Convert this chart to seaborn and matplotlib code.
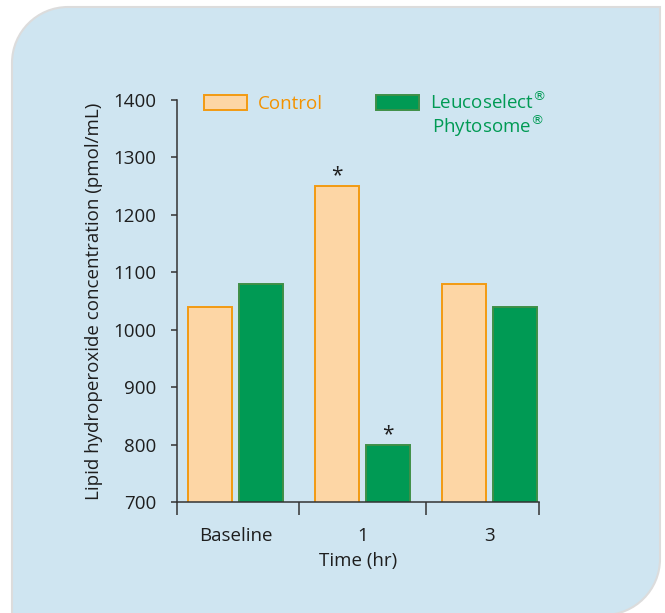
import pandas as pd
import matplotlib.pyplot as plt
import seaborn as sns
from matplotlib.patches import Patch, PathPatch
from matplotlib.path import Path

# Data
times = ["Baseline", "1", "3"]
control = [1040, 1250, 1080]
leucoselect = [1080, 800, 1040]
groups = ["Control", "Leucoselect"]
significant = {("Control", "1"), ("Leucoselect", "1")}

df = pd.DataFrame({
    "time": times * 2,
    "value": control + leucoselect,
    "group": ["Control"] * 3 + ["Leucoselect"] * 3,
})

sns.set_style("white")
plt.rcParams["font.family"] = ["Open Sans", "DejaVu Sans"]

bg = "#cfe5f1"
fill_c = "#fdd6a5"
edge_c = "#f29a12"
green = "#009a54"
green_edge = "#3f8f47"
orange_txt = "#f39200"
dark = "#1e1e1e"
fs = 13.5

fig = plt.figure(figsize=(6.65, 6.13), dpi=100)
fig.patch.set_facecolor("white")

# rounded light blue panel (top-left and bottom-right corners rounded), pixel coords
x0, x1, ytop, ybot, r = 12, 660, 606, -2, 56
k = 0.5523 * r
verts = [(x0, -10), (x0, ytop - r),
         (x0, ytop - r + k), (x0 + r - k, ytop), (x0 + r, ytop),
         (x1, ytop), (x1, ybot + r),
         (x1, ybot + r - k), (x1 - r + k, ybot), (x1 - r, ybot),
         (x0, -10), (x0, -10)]
codes = [Path.MOVETO, Path.LINETO,
         Path.CURVE4, Path.CURVE4, Path.CURVE4,
         Path.LINETO, Path.LINETO,
         Path.CURVE4, Path.CURVE4, Path.CURVE4,
         Path.LINETO, Path.CLOSEPOLY]
panel = PathPatch(Path(verts, codes), facecolor=bg, edgecolor="#dcdcdc",
                  linewidth=1.5, transform=None, zorder=-5)
fig.patches.append(panel)

ax = fig.add_axes([177 / 665, 1 - 502 / 613, (539 - 177) / 665, (502 - 100) / 613])
ax.set_facecolor("none")
ax.set_zorder(2)

sns.barplot(data=df, x="time", y="value", hue="group", order=times,
            hue_order=groups, palette=[fill_c, green], saturation=1,
            width=0.8, gap=0.13, legend=False, ax=ax)

for cont, ec in zip(ax.containers, [edge_c, green_edge]):
    for bar in cont:
        bar.set_edgecolor(ec)
        bar.set_linewidth(1.4)

# significance stars
for cont, g in zip(ax.containers, groups):
    for bar, t in zip(cont, times):
        if (g, t) in significant:
            ax.text(bar.get_x() + bar.get_width() / 2, bar.get_height() + 8, "*",
                    ha="center", va="baseline", fontsize=15, color=dark)

ax.set_ylim(700, 1400)
ax.set_xlim(-0.46, 2.39)
ax.set_yticks(range(700, 1401, 100))
ax.set_xticks(range(len(times)))
ax.set_xticklabels(times)
ax.set_xticks([-0.46, 0.5, 1.5, 2.39], minor=True)
ax.tick_params(axis="x", which="major", bottom=True, length=0, pad=18,
               labelsize=fs, colors=dark)
ax.tick_params(axis="x", which="minor", bottom=True, length=9, width=1.1,
               color="#333333", direction="out")
ax.tick_params(axis="y", left=True, length=4, width=1.1, color="#333333",
               direction="out", pad=11, labelsize=fs, labelcolor=dark)

for s in ["top", "right"]:
    ax.spines[s].set_visible(False)
for s in ["left", "bottom"]:
    ax.spines[s].set_color("#333333")
    ax.spines[s].set_linewidth(1.1)

ax.set_xlabel("Time (hr)", fontsize=fs, color=dark, labelpad=5)
ax.set_ylabel("Lipid hydroperoxide concentration (pmol/mL)", fontsize=fs,
              color=dark, labelpad=7)

handles = [Patch(facecolor=fill_c, edgecolor=edge_c, linewidth=1.4),
           Patch(facecolor=green, edgecolor=green_edge, linewidth=1.4)]
leg = ax.legend(handles, ["Control", "Leucoselect$^{\\circledR}$"], ncol=2,
                loc="upper left", bbox_to_anchor=(0.027, 1.065), frameon=False,
                fontsize=fs, handlelength=2.3, handleheight=0.9,
                handletextpad=0.6, columnspacing=2.8,
                labelcolor=[orange_txt, green])
ax.text(0.705, 0.918, "Phytosome$^{\\circledR}$", transform=ax.transAxes,
        ha="left", va="baseline", fontsize=fs, color=green)

fig.savefig("out.png", dpi=100, facecolor=fig.get_facecolor())
